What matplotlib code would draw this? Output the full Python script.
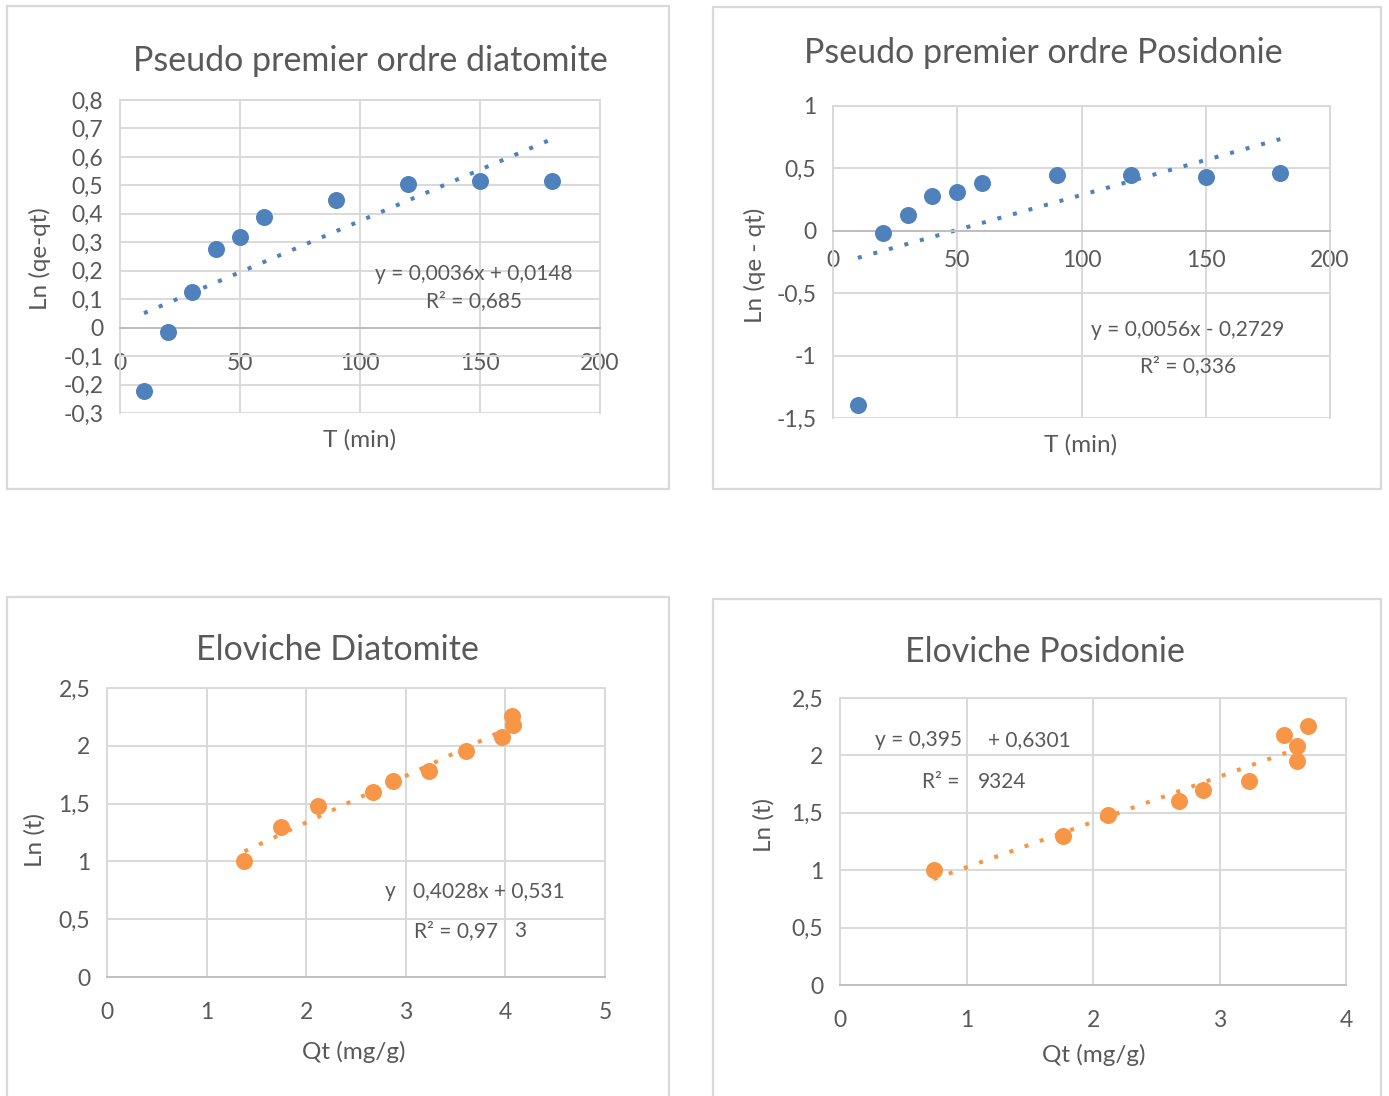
import numpy as np
import matplotlib
matplotlib.use("Agg")
import matplotlib.pyplot as plt
from matplotlib.patches import Rectangle

plt.rcParams['font.family'] = ['Lato', 'DejaVu Sans']

# data
t_min = [10, 20, 30, 40, 50, 60, 90, 120, 150, 180]
ln_qe_qt_diat = [-0.223, -0.015, 0.126, 0.278, 0.319, 0.390, 0.450, 0.505, 0.516, 0.516]
ln_qe_qt_posi = [-1.395, -0.021, 0.123, 0.275, 0.312, 0.387, 0.445, 0.445, 0.432, 0.461]
qt_diat = [1.38, 1.75, 2.12, 2.67, 2.87, 3.23, 3.60, 3.97, 4.08, 4.07]
qt_posi = [0.74, 1.76, 2.12, 2.68, 2.87, 3.23, 3.61, 3.61, 3.51, 3.70]
ln_t = [1.000, 1.301, 1.477, 1.602, 1.699, 1.778, 1.954, 2.079, 2.176, 2.255]

# trendline coefficients as printed on the chart
fit_diat_ppo = (0.0036, 0.0148)
fit_posi_ppo = (0.0056, -0.2729)
fit_diat_elo = (0.4028, 0.531)
fit_posi_elo = (0.395, 0.6301)

W, H = 1389, 1096
BLUE = '#4F81BD'
ORANGE = '#F79646'
TXT = '#595959'
GRID = '#d9d9d9'
TITLE_FS = 24.5
LABEL_FS = 17.5
TICK_FS = 16.5
EQ_FS = 15


def fx(x):
    return x / W


def fy(y):
    return 1 - y / H


def comma(v):
    s = ('%.1f' % v).rstrip('0').rstrip('.')
    if s == '-0':
        s = '0'
    return s.replace('.', ',')


def make_axes(fig, l, t, r, b, xticks, yticks, xpad, ypad=12):
    ax = fig.add_axes([fx(l), fy(b), (r - l) / W, (b - t) / H])
    ax.set_xlim(xticks[0], xticks[-1])
    ax.set_ylim(yticks[0], yticks[-1])
    ax.set_xticks(xticks)
    ax.set_yticks(yticks)
    ax.set_xticklabels([comma(v) for v in xticks])
    ax.set_yticklabels([comma(v) for v in yticks])
    ax.grid(True, color=GRID, lw=1.4)
    ax.set_axisbelow(True)
    for s in ['left', 'right', 'top']:
        ax.spines[s].set_color(GRID)
        ax.spines[s].set_linewidth(1.4)
    ax.spines['bottom'].set_position(('data', 0))
    ax.spines['bottom'].set_color('#bfbfbf')
    ax.spines['bottom'].set_linewidth(1.4)
    ax.tick_params(axis='both', length=0, labelsize=TICK_FS, colors=TXT)
    ax.tick_params(axis='x', pad=xpad)
    ax.tick_params(axis='y', pad=ypad)
    return ax


def trend(ax, x, coef, color):
    xs = np.array([min(x), max(x)])
    ax.plot(xs, coef[0] * xs + coef[1], color=color, lw=2.9,
            linestyle=(0, (1, 3)), dash_capstyle='butt', zorder=2)


fig = plt.figure(figsize=(W / 100, H / 100), dpi=100)
fig.patch.set_facecolor('white')

# outer chart frames
for (l, t, r, b) in [(7, 6, 669, 489), (713, 7, 1381, 489),
                     (7, 597, 669, 1110), (713, 599, 1381, 1110)]:
    fig.patches.append(Rectangle((fx(l), fy(b)), (r - l) / W, (b - t) / H,
                                 transform=fig.transFigure, fill=False,
                                 edgecolor=GRID, lw=1.6))

# Pseudo premier ordre diatomite
ax1 = make_axes(fig, 120, 100, 600, 413, [0, 50, 100, 150, 200],
                list(np.round(np.arange(-0.3, 0.81, 0.1), 1)), xpad=18)
ax1.scatter(t_min, ln_qe_qt_diat, s=150, color=BLUE, zorder=3, linewidths=0)
trend(ax1, t_min, fit_diat_ppo, BLUE)
fig.text(fx(370), fy(61), 'Pseudo premier ordre diatomite', ha='center', va='center', fontsize=TITLE_FS, color=TXT)
fig.text(fx(40), fy(259), 'Ln (qe-qt)', ha='center', va='center', rotation=90, fontsize=LABEL_FS, color=TXT)
fig.text(fx(360), fy(440), 'T (min)', ha='center', va='center', fontsize=LABEL_FS, color=TXT)
fig.text(fx(474), fy(274), 'y = 0,0036x + 0,0148', ha='center', va='center', fontsize=EQ_FS, color=TXT)
fig.text(fx(474), fy(301), 'R² = 0,685', ha='center', va='center', fontsize=EQ_FS, color=TXT)

# Pseudo premier ordre Posidonie
ax2 = make_axes(fig, 833, 106, 1330, 418, [0, 50, 100, 150, 200],
                [-1.5, -1, -0.5, 0, 0.5, 1], xpad=14)
ax2.scatter(t_min, ln_qe_qt_posi, s=150, color=BLUE, zorder=3, linewidths=0)
trend(ax2, t_min, fit_posi_ppo, BLUE)
fig.text(fx(1043), fy(53), 'Pseudo premier ordre Posidonie', ha='center', va='center', fontsize=TITLE_FS, color=TXT)
fig.text(fx(755), fy(265), 'Ln (qe - qt)', ha='center', va='center', rotation=90, fontsize=LABEL_FS, color=TXT)
fig.text(fx(1081), fy(445), 'T (min)', ha='center', va='center', fontsize=LABEL_FS, color=TXT)
fig.text(fx(1188), fy(330), 'y = 0,0056x - 0,2729', ha='center', va='center', fontsize=EQ_FS, color=TXT)
fig.text(fx(1188), fy(366), 'R² = 0,336', ha='center', va='center', fontsize=EQ_FS, color=TXT)

# Eloviche Diatomite
ax3 = make_axes(fig, 107, 688, 605, 977, [0, 1, 2, 3, 4, 5],
                [0, 0.5, 1, 1.5, 2, 2.5], xpad=18)
ax3.scatter(qt_diat, ln_t, s=150, color=ORANGE, zorder=3, linewidths=0)
trend(ax3, qt_diat, fit_diat_elo, ORANGE)
fig.text(fx(337), fy(650), 'Eloviche Diatomite', ha='center', va='center', fontsize=TITLE_FS, color=TXT)
fig.text(fx(35), fy(840), 'Ln (t)', ha='center', va='center', rotation=90, fontsize=LABEL_FS, color=TXT)
fig.text(fx(354), fy(1052), 'Qt (mg/g)', ha='center', va='center', fontsize=LABEL_FS, color=TXT)
fig.text(fx(396), fy(891), 'y', ha='right', va='center', fontsize=EQ_FS, color=TXT)
fig.text(fx(413), fy(891), '0,4028x + 0,531', ha='left', va='center', fontsize=EQ_FS, color=TXT)
fig.text(fx(498), fy(931), 'R² = 0,97', ha='right', va='center', fontsize=EQ_FS, color=TXT)
fig.text(fx(514), fy(931), '3', ha='left', va='center', fontsize=EQ_FS, color=TXT)

# Eloviche Posidonie
ax4 = make_axes(fig, 840, 698, 1346, 985, [0, 1, 2, 3, 4],
                [0, 0.5, 1, 1.5, 2, 2.5], xpad=18)
ax4.scatter(qt_posi, ln_t, s=150, color=ORANGE, zorder=3, linewidths=0)
trend(ax4, qt_posi, fit_posi_elo, ORANGE)
fig.text(fx(1045), fy(652), 'Eloviche Posidonie', ha='center', va='center', fontsize=TITLE_FS, color=TXT)
fig.text(fx(764), fy(825), 'Ln (t)', ha='center', va='center', rotation=90, fontsize=LABEL_FS, color=TXT)
fig.text(fx(1094), fy(1055), 'Qt (mg/g)', ha='center', va='center', fontsize=LABEL_FS, color=TXT)
fig.text(fx(962), fy(740), 'y = 0,395', ha='right', va='center', fontsize=EQ_FS, color=TXT)
fig.text(fx(988), fy(740), '+ 0,6301', ha='left', va='center', fontsize=EQ_FS, color=TXT)
fig.text(fx(960), fy(782), 'R² =', ha='right', va='center', fontsize=EQ_FS, color=TXT)
fig.text(fx(978), fy(782), '9324', ha='left', va='center', fontsize=EQ_FS, color=TXT)

fig.savefig('out.png', dpi=100)
